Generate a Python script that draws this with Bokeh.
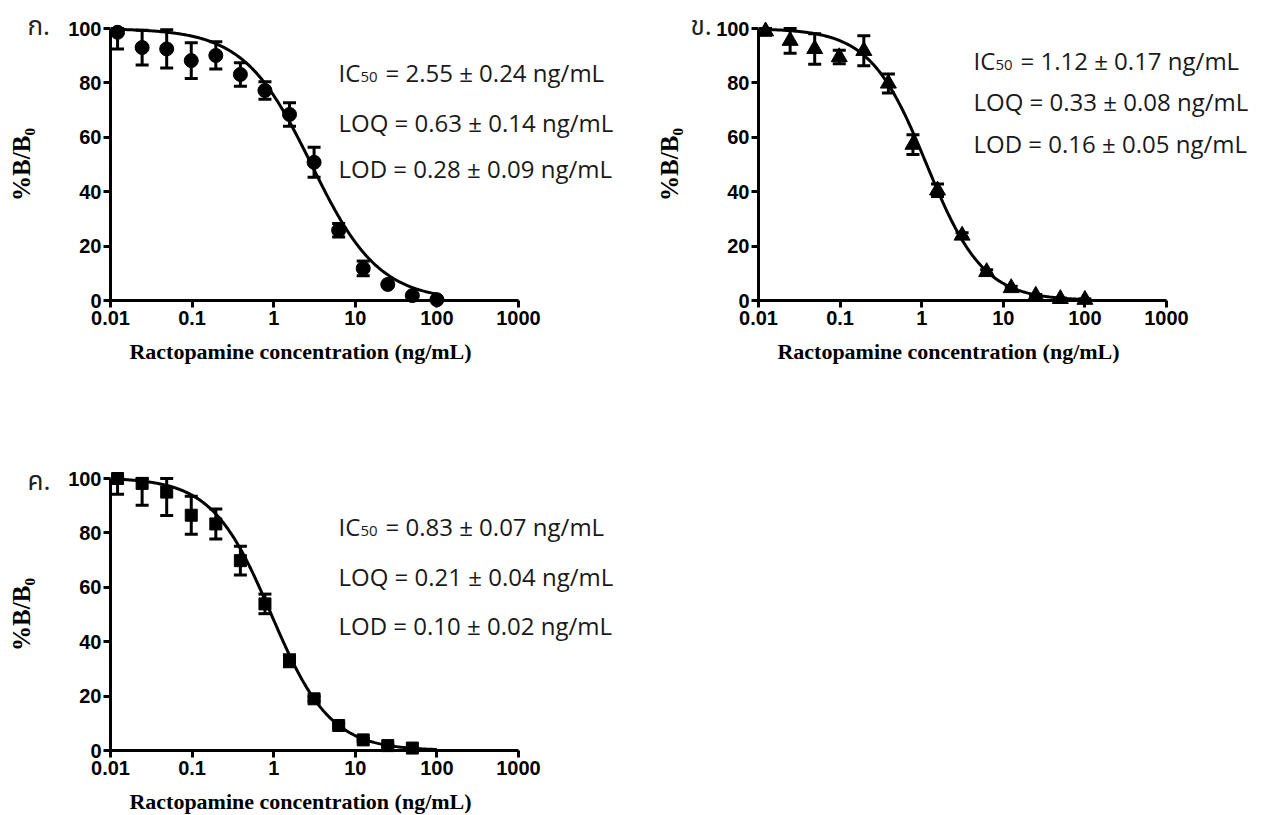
import numpy as np
from bokeh.plotting import figure
from bokeh.models import (Range1d, FixedTicker, CustomJSTickFormatter, Whisker,
                          TeeHead, ColumnDataSource, Label)
from bokeh.layouts import column, row
from bokeh.embed import file_html
from bokeh.resources import INLINE

# ---------------- data ----------------
conc = [0.01220703125, 0.0244140625, 0.048828125, 0.09765625, 0.1953125,
        0.390625, 0.78125, 1.5625, 3.125, 6.25, 12.5, 25.0, 50.0, 100.0]

a_mean = [98.6, 93.0, 92.5, 88.2, 90.1, 83.1, 77.2, 68.4, 50.8, 25.8, 11.8, 5.9, 1.8, 0.3]
a_sd = [6.1, 6.4, 7.0, 6.6, 5.0, 4.3, 3.2, 4.3, 5.5, 2.5, 2.7, 0.4, 0.3, 0.3]

b_mean = [99.0, 95.5, 92.5, 89.5, 91.8, 79.8, 57.3, 40.5, 23.9, 10.5, 4.6, 1.8, 0.6, 0.3]
b_sd = [1.5, 4.6, 5.6, 2.5, 5.5, 3.5, 3.6, 2.3, 1.0, 0.8, 0.6, 0.4, 0.3, 0.3]

c_conc = conc[:13]
c_mean = [100.0, 98.2, 95.0, 86.5, 83.3, 69.8, 53.9, 33.0, 19.0, 9.2, 3.9, 1.8, 0.9]
c_sd = [5.8, 8.0, 8.6, 7.0, 5.5, 5.3, 3.6, 2.2, 0.8, 0.8, 0.5, 0.3, 0.2]

# fitted 4-parameter logistic curves (top, bottom, midpoint, Hill slope)
fit_top = [100.0, 100.0, 100.3]
fit_bottom = [0.0, 0.0, 0.0]
fit_mid = [2.9, 1.15, 0.93]
fit_hill = [1.05, 1.25, 1.2]

panel_letters = ["ก.", "ข.", "ค."]
ic50_text = ["2.55 ± 0.24", "1.12 ± 0.17", "0.83 ± 0.07"]
loq_text = ["0.63 ± 0.14", "0.33 ± 0.08", "0.21 ± 0.04"]
lod_text = ["0.28 ± 0.09", "0.16 ± 0.05", "0.10 ± 0.02"]

x_ticks = [0.01, 0.1, 1, 10, 100, 1000]
y_ticks = [0, 20, 40, 60, 80, 100]
x_title = "Ractopamine concentration (ng/mL)"
y_title = "%B/B₀"

TICK_FONT = "Liberation Sans"
TITLE_FONT = "Liberation Serif"
STAT_FONT = "Open Sans"

# layout geometry (pixels)
AX_X = 110        # pixel column of the y axis inside each figure
AX_Y = 300        # pixel row of the x axis (from figure top)
PX_DECADE = 81.6  # pixels per decade on x
PX_UNIT = 2.72    # pixels per %B/B0 unit


def make_panel(i, xs, ys, sds, marker, size, width, height, stat_pos, letter_pos):
    x_lo = 10 ** (-2 - AX_X / PX_DECADE)
    x_hi = 10 ** (-2 + (width - AX_X) / PX_DECADE)
    y_hi = AX_Y / PX_UNIT
    y_lo = -(height - AX_Y) / PX_UNIT
    p = figure(width=width, height=height, x_axis_type="log",
               x_range=Range1d(x_lo, x_hi), y_range=Range1d(y_lo, y_hi),
               output_backend="svg", toolbar_location=None, min_border=0)
    p.outline_line_color = None
    p.grid.visible = False
    p.background_fill_color = "white"
    p.border_fill_color = "white"

    # axes
    xa = p.xaxis[0]
    xa.fixed_location = 0
    xa.bounds = (0.01, 1000)
    xa.ticker = FixedTicker(ticks=x_ticks)
    xa.formatter = CustomJSTickFormatter(code="return String(tick)")
    ya = p.yaxis[0]
    ya.fixed_location = 0.01
    ya.bounds = (0, 100)
    ya.ticker = FixedTicker(ticks=y_ticks)
    ya.axis_label = y_title
    ya.axis_label_text_font = TITLE_FONT
    ya.axis_label_text_font_style = "bold"
    ya.axis_label_text_font_size = "25px"
    ya.axis_label_text_color = "black"
    ya.axis_label_standoff = 30
    for ax in (xa, ya):
        ax.axis_line_width = 3
        ax.axis_line_color = "black"
        ax.major_tick_line_width = 3
        ax.major_tick_line_color = "black"
        ax.major_tick_out = 7
        ax.major_tick_in = 0
        ax.minor_tick_line_color = None
        ax.major_label_text_font = TICK_FONT
        ax.major_label_text_font_style = "bold"
        ax.major_label_text_font_size = "20px"
        ax.major_label_text_color = "black"
    xa.major_label_standoff = 3
    ya.major_label_standoff = 2

    # fitted curve
    xc = np.logspace(np.log10(conc[0]), np.log10(100.0), 300)
    yc = fit_bottom[i] + (fit_top[i] - fit_bottom[i]) / (1.0 + (xc / fit_mid[i]) ** fit_hill[i])
    p.line(xc, yc, line_color="black", line_width=3)

    # error bars and points
    ys_a = np.array(ys)
    sd_a = np.array(sds)
    src = ColumnDataSource(dict(x=xs, y=ys,
                                upper=np.minimum(ys_a + sd_a, 100.0),
                                lower=ys_a - sd_a))
    w = Whisker(source=src, base="x", upper="upper", lower="lower",
                line_width=3, line_color="black",
                upper_head=TeeHead(size=13, line_width=3, line_color="black"),
                lower_head=TeeHead(size=13, line_width=3, line_color="black"))
    p.add_layout(w)
    p.scatter("x", "y", source=src, marker=marker, size=size,
              fill_color="black", line_color="black")

    # x axis title
    p.add_layout(Label(x=300, y=height - AX_Y - 51, x_units="screen", y_units="screen",
                       text=x_title, text_align="center", text_baseline="middle",
                       text_font=TITLE_FONT, text_font_style="bold",
                       text_font_size="22px", text_color="black"))

    # panel letter
    p.add_layout(Label(x=letter_pos[0], y=height - letter_pos[1], x_units="screen",
                       y_units="screen", text=panel_letters[i], text_align="left",
                       text_baseline="alphabetic",
                       text_font="Noto Sans Thai, Noto Sans, sans-serif",
                       text_font_size="26px", text_color="#222222"))

    # statistics text
    x0 = stat_pos[0]
    lines = [("IC", "= " + ic50_text[i] + " ng/mL"),
             ("LOQ = " + loq_text[i] + " ng/mL", None),
             ("LOD = " + lod_text[i] + " ng/mL", None)]
    for k, (t1, t2) in enumerate(lines):
        yb = height - stat_pos[1 + k]
        p.add_layout(Label(x=x0, y=yb, x_units="screen", y_units="screen", text=t1,
                           text_align="left", text_baseline="alphabetic",
                           text_font=STAT_FONT, text_font_size="24px",
                           text_color="#1a1a1a"))
        if t2 is not None:
            p.add_layout(Label(x=x0 + 22, y=yb - 4, x_units="screen", y_units="screen",
                               text="50", text_align="left", text_baseline="alphabetic",
                               text_font=STAT_FONT, text_font_size="15px",
                               text_color="#1a1a1a"))
            p.add_layout(Label(x=x0 + 47, y=yb, x_units="screen", y_units="screen",
                               text=t2, text_align="left", text_baseline="alphabetic",
                               text_font=STAT_FONT, text_font_size="24px",
                               text_color="#1a1a1a"))
    return p


p1 = make_panel(0, conc, a_mean, a_sd, "circle", 14, 648, 450,
                (338, 72, 121.5, 168), (27, 26))
p2 = make_panel(1, conc, b_mean, b_sd, "triangle", 16, 613, 450,
                (325, 60, 101, 143), (42, 26))
p3 = make_panel(2, c_conc, c_mean, c_sd, "square", 12, 648, 365,
                (338, 76, 126, 175), (27, 31))

layout = column(row(p1, p2), p3)
open("out.html", "w").write(file_html(layout, INLINE))
